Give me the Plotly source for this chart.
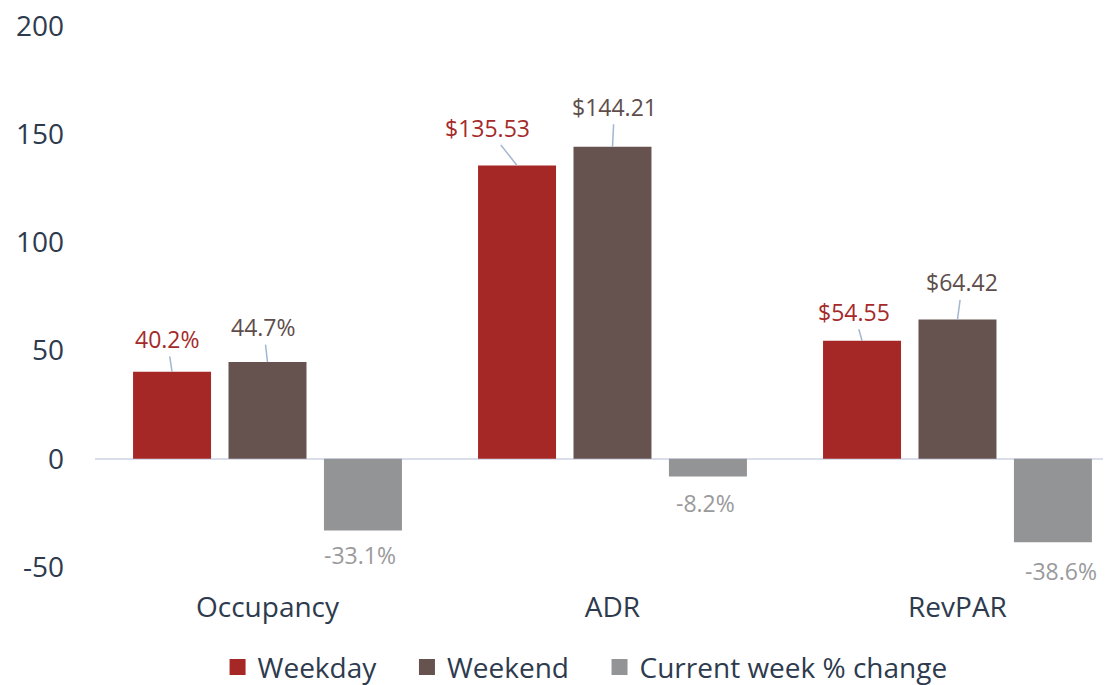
import plotly.graph_objects as go

categories = ["Occupancy", "ADR", "RevPAR"]
weekday = [40.2, 135.53, 54.55]
weekend = [44.7, 144.21, 64.42]
pct_change = [-33.1, -8.2, -38.6]

series_names = ["Weekday", "Weekend", "Current week % change"]
series_values = [weekday, weekend, pct_change]
y_ticks = [-50, 0, 50, 100, 150, 200]
y_tick_text = ["-50", "0", "50", "100", "150", "200"]

bar_colors = ["#A52726", "#66524E", "#939496"]
label_colors = ["#A52A2A", "#5E4E4B", "#9A9A9C"]
legend_x = [0.190, 0.3617, 0.5363]

# label offsets (px) from bar end, per series per category
label_offsets = [
    [(-5, -33), (-30, -38), (-8, -29)],
    [(-4, -35), (2, -40), (5, -37)],
    [(-3, 25), (-2, 26), (8, 29)],
]

BARGAP = 0.17
GROUPGAP = 0.183
TEXT = "#2E3B4E"
FONT = "Open Sans"

# the page body adds an 8px margin, so the figure is 8px smaller than the window
W, H = 1103, 677


def fmt(cat, v, series):
    if series == 2 or cat == "Occupancy":
        return f"{v:.1f}%"
    return f"${v:,.2f}"


fig = go.Figure()
for name, vals, color in zip(series_names, series_values, bar_colors):
    fig.add_trace(go.Bar(x=categories, y=vals, name=name, marker_color=color,
                         marker_line_width=0, showlegend=False))

# legend entries (square swatches), one legend per entry to match spacing
for k, (name, color) in enumerate(zip(series_names, bar_colors)):
    lg = "legend" if k == 0 else f"legend{k + 1}"
    fig.add_trace(go.Scatter(
        x=[None], y=[None], mode="markers", name=name, legend=lg,
        marker=dict(symbol="square", size=16, color=color),
    ))
    fig.update_layout({lg: dict(
        orientation="h", xref="container", yref="container",
        x=legend_x[k], xanchor="left", y=0.026, yanchor="middle",
        font=dict(size=28, color=TEXT), bgcolor="rgba(0,0,0,0)",
    )})

slot = (1 - BARGAP) / 3
for s, vals in enumerate(series_values):
    for i, (cat, v) in enumerate(zip(categories, vals)):
        xpos = i + (s - 1) * slot
        ax, ay = label_offsets[s][i]
        txt = fmt(cat, v, s)
        if s < 2:
            fig.add_annotation(
                x=xpos, y=v, text=txt, showarrow=True, arrowhead=0,
                arrowwidth=1.5, arrowcolor="#A3B6D0", ax=ax, ay=ay,
                standoff=0, font=dict(size=23, color=label_colors[s], family=FONT),
            )
        else:
            fig.add_annotation(
                x=xpos, y=v, text=txt, showarrow=False, xshift=ax, yshift=-ay,
                font=dict(size=23, color=label_colors[s], family=FONT),
            )

fig.update_layout(
    width=W, height=H,
    margin=dict(l=87, r=0, t=18, b=118, autoexpand=False),
    paper_bgcolor="white", plot_bgcolor="white",
    barmode="group", bargap=BARGAP, bargroupgap=GROUPGAP,
    font=dict(family=FONT, color=TEXT),
    showlegend=True,
)
fig.update_xaxes(
    type="category", range=[-0.5, 2.445], showgrid=False, showline=False,
    tickfont=dict(size=28, color=TEXT), ticklabelstandoff=21, automargin=False,
)
fig.update_yaxes(
    range=[-50, 200], tickvals=y_ticks, ticktext=y_tick_text,
    showgrid=False, showline=False, ticklabeloverflow="allow",
    zeroline=True, zerolinecolor="#D9DEEA", zerolinewidth=2,
    tickfont=dict(size=28, color=TEXT), ticklabelstandoff=30, automargin=False,
)

fig.write_html("out.html")
